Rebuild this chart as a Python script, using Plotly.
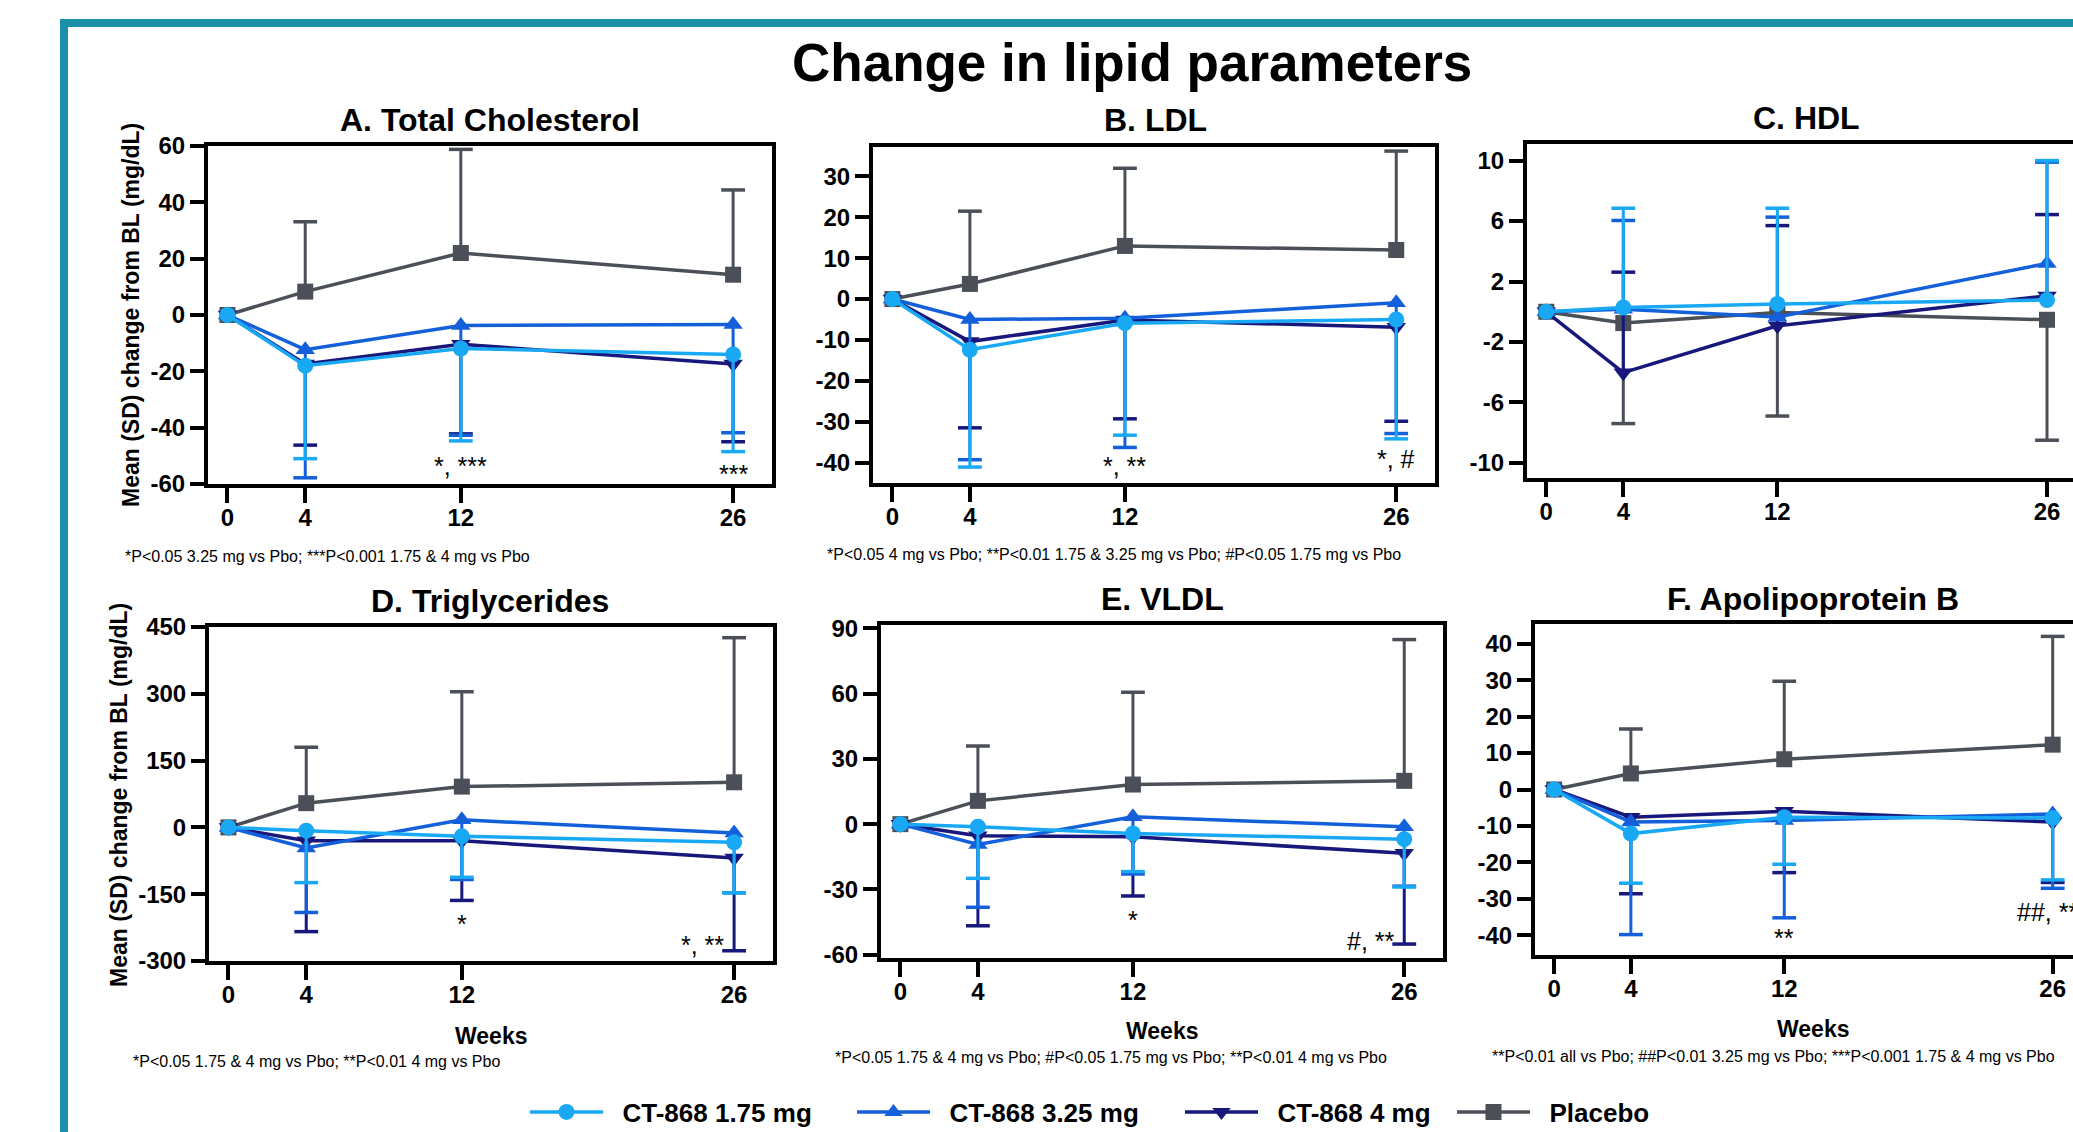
import plotly.graph_objects as go

W, H = 2073, 1132
FONT = "Liberation Sans, Arial, Helvetica, sans-serif"

# ---------------- data ----------------
weeks = [0, 4, 12, 26]
week_labels = ["0", "4", "12", "26"]

series_names = ["CT-868 1.75 mg", "CT-868 3.25 mg", "CT-868 4 mg", "Placebo"]

# A. Total cholesterol: mean change (weeks 0,4,12,26) and SD (weeks 4,12,26)
tc_175 = [0, -18.0, -11.9, -14.0]
tc_325 = [0, -12.3, -3.7, -3.4]
tc_4 = [0, -17.4, -10.4, -17.4]
tc_pbo = [0, 8.3, 22.0, 14.3]
tc_175_sd = [33.0, 32.8, 34.5]
tc_325_sd = [45.5, 39.0, 38.4]
tc_4_sd = [28.8, 31.8, 27.6]
tc_pbo_sd = [24.8, 36.8, 30.1]

# B. LDL
ldl_175 = [0, -12.4, -5.9, -5.0]
ldl_325 = [0, -5.0, -4.7, -0.9]
ldl_4 = [0, -10.4, -5.1, -6.9]
ldl_pbo = [0, 3.7, 13.0, 12.0]
ldl_175_sd = [28.7, 27.4, 29.2]
ldl_325_sd = [34.3, 31.6, 32.0]
ldl_4_sd = [21.1, 24.2, 23.0]
ldl_pbo_sd = [17.8, 19.0, 24.2]

# C. HDL
hdl_175 = [0, 0.28, 0.52, 0.78]
hdl_325 = [0, 0.17, -0.35, 3.2]
hdl_4 = [0, -4.03, -0.93, 1.05]
hdl_pbo = [0, -0.75, -0.05, -0.53]
hdl_175_sd = [6.57, 6.33, 9.22]
hdl_325_sd = [5.87, 6.61, 6.7]
hdl_4_sd = [6.65, 6.63, 5.38]
hdl_pbo_sd = [6.65, 6.85, 7.97]

# D. Triglycerides
tg_175 = [0, -7.4, -20.0, -33.5]
tg_325 = [0, -46.0, 17.0, -12.7]
tg_4 = [0, -30.0, -30.0, -68.5]
tg_pbo = [0, 54.4, 91.6, 101.3]
tg_175_sd = [116.6, 92.0, 113.5]
tg_325_sd = [145.0, 134.0, 134.3]
tg_4_sd = [204.0, 134.0, 208.5]
tg_pbo_sd = [125.6, 213.0, 324.7]

# E. VLDL
vldl_175 = [0, -1.2, -4.3, -6.9]
vldl_325 = [0, -9.3, 3.4, -1.2]
vldl_4 = [0, -5.3, -5.8, -13.4]
vldl_pbo = [0, 10.7, 18.2, 19.9]
vldl_175_sd = [23.7, 17.5, 22.0]
vldl_325_sd = [28.9, 26.3, 27.3]
vldl_4_sd = [41.4, 27.2, 41.7]
vldl_pbo_sd = [25.2, 42.4, 64.9]

# F. Apolipoprotein B
apob_175 = [0, -12.1, -7.6, -7.8]
apob_325 = [0, -8.9, -8.5, -6.7]
apob_4 = [0, -7.6, -6.0, -8.9]
apob_pbo = [0, 4.4, 8.3, 12.3]
apob_175_sd = [13.6, 12.9, 17.0]
apob_325_sd = [30.9, 26.7, 20.4]
apob_4_sd = [21.0, 16.8, 16.6]
apob_pbo_sd = [12.2, 21.4, 29.7]

panel_titles = ["A. Total Cholesterol", "B. LDL", "C. HDL",
                "D. Triglycerides", "E. VLDL", "F. Apolipoprotein B"]

# significance labels: (panel index, text, week position, y value)
sig_labels = [
    (0, "*, ***", 12, -51.7), (0, "***", 26, -54.5),
    (1, "*, **", 12, -39.5), (1, "*, #", 26, -38.0),
    (3, "*", 12, -206), (3, "*, **", 24.4, -253),
    (4, "*", 12, -41.7), (4, "#, **", 24.3, -51.6),
    (5, "**", 12, -39.5), (5, "##, ***", 26, -32.2),
]

footnotes = [
    "*P<0.05 3.25 mg vs Pbo; ***P<0.001 1.75 & 4 mg vs Pbo",
    "*P<0.05 4 mg vs Pbo; **P<0.01 1.75 & 3.25 mg vs Pbo; #P<0.05 1.75 mg vs Pbo",
    "*P<0.05 1.75 & 4 mg vs Pbo; **P<0.01 4 mg vs Pbo",
    "*P<0.05 1.75 & 4 mg vs Pbo; #P<0.05 1.75 mg vs Pbo; **P<0.01 4 mg vs Pbo",
    "**P<0.01 all vs Pbo; ##P<0.01 3.25 mg vs Pbo; ***P<0.001 1.75 & 4 mg vs Pbo",
]

# ---------------- styling ----------------
colors = ["#19A9F4", "#1460DA", "#17177C", "#4B5058"]
symbols = ["circle", "triangle-up", "triangle-down", "square"]
msizes = [16, 17, 17, 16]

panel_means = [
    [tc_175, tc_325, tc_4, tc_pbo],
    [ldl_175, ldl_325, ldl_4, ldl_pbo],
    [hdl_175, hdl_325, hdl_4, hdl_pbo],
    [tg_175, tg_325, tg_4, tg_pbo],
    [vldl_175, vldl_325, vldl_4, vldl_pbo],
    [apob_175, apob_325, apob_4, apob_pbo],
]
panel_sds = [
    [tc_175_sd, tc_325_sd, tc_4_sd, tc_pbo_sd],
    [ldl_175_sd, ldl_325_sd, ldl_4_sd, ldl_pbo_sd],
    [hdl_175_sd, hdl_325_sd, hdl_4_sd, hdl_pbo_sd],
    [tg_175_sd, tg_325_sd, tg_4_sd, tg_pbo_sd],
    [vldl_175_sd, vldl_325_sd, vldl_4_sd, vldl_pbo_sd],
    [apob_175_sd, apob_325_sd, apob_4_sd, apob_pbo_sd],
]
# drugs' error bars point down (up for HDL), placebo opposite
drug_dir = [-1, -1, 1, -1, -1, -1]

# pixel layout of each plot frame: (left, right, top, bottom)
frames = [
    (208, 772, 146, 484),
    (873, 1435, 147, 483),
    (1527, 2073, 144, 478),
    (209, 773, 627, 961),
    (881, 1443, 625, 958),
    (1535, 2073, 624, 955),
]
x_ranges = [[-1, 28], [-1, 28], [-1, 27.35], [-1, 28], [-1, 28], [-1, 27.06]]
y_ranges = [[-60, 60], [-45, 37.2], [-11.0, 11.1], [-300, 450], [-61.5, 91.5], [-45.4, 45.4]]
y_ticks = [
    [-60, -40, -20, 0, 20, 40, 60],
    [-40, -30, -20, -10, 0, 10, 20, 30],
    [-10, -6, -2, 2, 6, 10],
    [-300, -150, 0, 150, 300, 450],
    [-60, -30, 0, 30, 60, 90],
    [-40, -30, -20, -10, 0, 10, 20, 30, 40],
]
title_pos = [(490, 120), (1155, 120), (1806, 118), (490, 601), (1162, 599), (1813, 599)]
foot_pos = [(123, 557), (825, 555), (131, 1061), (833, 1057), (1490, 1056)]
weeks_pos = [(491, 1036), (1162, 1031), (1813, 1029)]
ylab_pos = [(131, 315), (119, 795)]
legend_x = [533, 860, 1188, 1460]
draw_order = [3, 2, 1, 0]


def fx(p):
    return p / W


def fy(p):
    return 1 - p / H


fig = go.Figure()
layout = dict(
    template="none",
    width=W, height=H, margin=dict(l=0, r=0, t=0, b=0, pad=0, autoexpand=False),
    paper_bgcolor="white", plot_bgcolor="white",
    font=dict(family=FONT, color="black"),
)

for i in range(6):
    n = "" if i == 0 else str(i + 1)
    xa, ya = "x" + n, "y" + n
    l, r, t, b = frames[i]
    right_edge = r >= W
    layout["xaxis" + n] = dict(
        domain=[fx(l), min(1.0, fx(r))], anchor=ya, range=x_ranges[i],
        tickmode="array", tickvals=weeks, ticktext=week_labels,
        ticks="outside", ticklen=15, ticklabelstandoff=-6,
        tickwidth=4, tickcolor="black", showline=True, linewidth=4,
        linecolor="black", mirror=True, showgrid=False, zeroline=False,
        automargin=False,
        tickfont=dict(family=FONT, size=24, color="black", weight="bold"),
        fixedrange=True,
    )
    layout["yaxis" + n] = dict(
        domain=[fy(b), fy(t)], anchor=xa, range=y_ranges[i],
        tickmode="array", tickvals=y_ticks[i],
        ticktext=[str(v) for v in y_ticks[i]],
        ticks="outside", ticklen=14, tickwidth=4,
        tickcolor="black", showline=True, linewidth=4, linecolor="black",
        mirror=not right_edge, showgrid=False, zeroline=False,
        automargin=False,
        tickfont=dict(family=FONT, size=24, color="black", weight="bold"),
        fixedrange=True,
    )
    for s in draw_order:
        mean = panel_means[i][s]
        sd = panel_sds[i][s]
        direction = drug_dir[i] if s < 3 else -drug_dir[i]
        up = [None] + (sd if direction > 0 else [0] * len(sd))
        down = [None] + (sd if direction < 0 else [0] * len(sd))
        fig.add_trace(go.Scatter(
            x=weeks, y=mean, mode="lines+markers",
            name="\u00a0\u00a0" + series_names[s],
            xaxis=xa, yaxis=ya,
            line=dict(color=colors[s], width=3.5),
            marker=dict(symbol=symbols[s], size=msizes[s], color=colors[s],
                        line=dict(width=0)),
            error_y=dict(type="data", symmetric=False, array=up,
                         arrayminus=down, color=colors[s], thickness=3,
                         width=0),
            showlegend=(i == 0),
            legend="legend" if s == 0 else "legend" + str(s + 1),
            hoverinfo="skip",
        ))
        cap_y = [m + direction * d for m, d in zip(mean[1:], sd)]
        fig.add_trace(go.Scatter(
            x=weeks[1:], y=cap_y, mode="markers", xaxis=xa, yaxis=ya,
            marker=dict(symbol="line-ew", size=17,
                        line=dict(color=colors[s], width=3.5)),
            showlegend=False, hoverinfo="skip",
        ))

annotations = []
# main title
annotations.append(dict(
    text="<b>Change in lipid parameters</b>", x=fx(1132), y=fy(63),
    xref="paper", yref="paper", showarrow=False, xanchor="center",
    yanchor="middle", font=dict(family=FONT, size=53, color="black")))
for i, (tx, ty) in enumerate(title_pos):
    annotations.append(dict(
        text="<b>" + panel_titles[i] + "</b>", x=fx(tx), y=fy(ty),
        xref="paper", yref="paper", showarrow=False, xanchor="center",
        yanchor="middle", font=dict(family=FONT, size=32, color="black")))
for (px_, py_) in ylab_pos:
    annotations.append(dict(
        text="<b>Mean (SD) change from BL (mg/dL)</b>", x=fx(px_), y=fy(py_),
        xref="paper", yref="paper", showarrow=False, textangle=-90,
        xanchor="center", yanchor="middle",
        font=dict(family=FONT, size=23, color="black")))
for (px_, py_) in weeks_pos:
    annotations.append(dict(
        text="<b>Weeks</b>", x=fx(px_), y=fy(py_), xref="paper",
        yref="paper", showarrow=False, xanchor="center", yanchor="middle",
        font=dict(family=FONT, size=23, color="black")))
for k, (px_, py_) in enumerate(foot_pos):
    annotations.append(dict(
        text=footnotes[k], x=fx(px_), y=fy(py_), xref="paper", yref="paper",
        showarrow=False, xanchor="left", yanchor="middle",
        font=dict(family=FONT, size=16, color="black")))
for (pi, txt, wx, vy) in sig_labels:
    n = "" if pi == 0 else str(pi + 1)
    annotations.append(dict(
        text=txt, x=wx, y=vy, xref="x" + n, yref="y" + n, showarrow=False,
        xanchor="center", yanchor="middle", yshift=-5,
        font=dict(family=FONT, size=25, color="black")))
layout["annotations"] = annotations

# teal frame (left and top edges visible)
layout["shapes"] = [dict(
    type="rect", xref="paper", yref="paper", x0=fx(64), x1=1.2,
    y0=fy(23), y1=-0.2, line=dict(color="#1A91A8", width=8),
    fillcolor="rgba(0,0,0,0)", layer="below")]

for s in range(4):
    key = "legend" if s == 0 else "legend" + str(s + 1)
    layout[key] = dict(
        x=fx(legend_x[s] - 8), y=fy(1112), xanchor="left", yanchor="middle",
        orientation="h", bgcolor="rgba(0,0,0,0)", borderwidth=0,
        itemwidth=73, font=dict(family=FONT, size=26, color="black",
                                weight="bold"))

fig.update_layout(**layout)
fig.write_html(
    "out.html",
    config={"displayModeBar": False, "staticPlot": False},
    post_script="document.body.style.margin='0';"
                "document.body.style.overflow='hidden';",
)
